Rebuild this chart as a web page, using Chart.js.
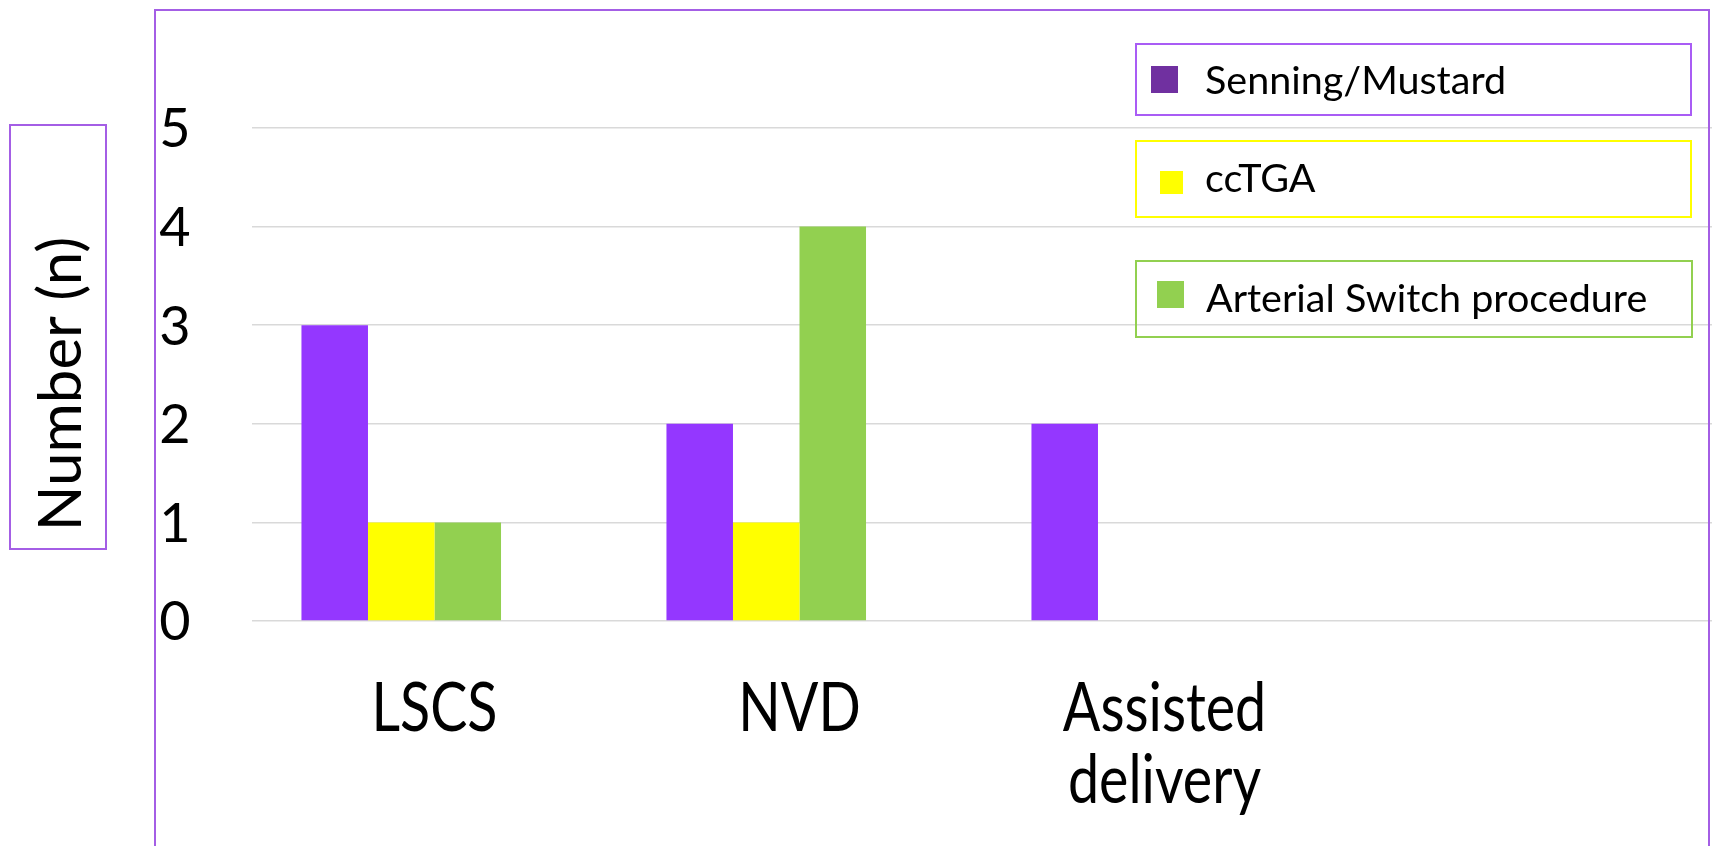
<!DOCTYPE html>
<html>
<head>
<meta charset="utf-8">
<title>Delivery mode by procedure</title>
<script src="https://cdn.jsdelivr.net/npm/chart.js@4.4.1/dist/chart.umd.min.js"></script>
<style>
  html, body { margin: 0; padding: 0; background: #fff; }
  body { width: 1712px; height: 846px; overflow: hidden; }
  #chart { display: block; }
</style>
</head>
<body>
<canvas id="chart" width="1712" height="846"></canvas>
<script>
// ─── Data ───
const categories = ['LSCS', 'NVD', ['Assisted', 'delivery'], ''];
const seriesNames = ['Senning/Mustard', 'ccTGA', 'Arterial Switch procedure'];
const senningMustard = [3, 2, 2, null];
const ccTGA = [1, 1, null, null];
const arterialSwitch = [1, 4, null, null];
const emptySeries = [null, null, null, null];   // unnamed 4th series (keeps its slot)
const yTickValues = [0, 1, 2, 3, 4, 5];
const yTitle = 'Number (n)';

// ─── Styles ───
const FONT = 'Lato, "Open Sans", sans-serif';
const CAP = 0.7165;                 // Lato cap height / em
const barColors = ['#9437ff', '#ffff00', '#92d050'];
const swatchColors = ['#7030a0', '#ffff00', '#92d050'];
const legendBorders = ['#a95cf5', '#ffff00', '#92d050'];
const frameColor = '#a45ee5';

// legend boxes: [left, top, right, bottom], swatch [x, y, w, h], text x / baseline
const legendLayout = [
    { box: [1136, 44, 1691, 115], sw: [1151, 66, 27, 27], tx: 1205, ty: 94 },
    { box: [1136, 141, 1691, 217], sw: [1160, 171, 23, 23], tx: 1205, ty: 192 },
    { box: [1136, 261, 1692, 337], sw: [1157, 281, 27, 27], tx: 1206, ty: 312 }
];

// ─── Text, frame and legend drawn over the chart ───
const overlay = {
    id: 'overlay',
    afterDraw(chart) {
        const ctx = chart.ctx;
        const xs = chart.scales.x, ys = chart.scales.y;
        ctx.save();
        ctx.fillStyle = '#000';
        ctx.textBaseline = 'alphabetic';

        // y tick labels
        const ySize = 54;
        ctx.font = ySize + 'px ' + FONT;
        ctx.textAlign = 'center';
        ys.ticks.forEach(t => {
            const py = ys.getPixelForValue(t.value);
            ctx.fillText(String(t.value), 175, py + ySize * CAP / 2);
        });

        // x category labels (narrow, tall glyphs)
        const xSize = 67, squeeze = 0.83, lineH = 72;
        ctx.font = xSize + 'px ' + FONT;
        chart.data.labels.forEach((lab, i) => {
            const px = xs.getPixelForTick(i);
            const lines = Array.isArray(lab) ? lab : [lab];
            lines.forEach((ln, j) => {
                ctx.save();
                ctx.translate(px, ys.bottom + 110 + j * lineH);
                ctx.scale(squeeze, 1);
                ctx.fillText(ln, 0, 0);
                ctx.restore();
            });
        });

        // y axis title in its box
        ctx.strokeStyle = frameColor;
        ctx.lineWidth = 2;
        ctx.strokeRect(10, 125, 96, 424);
        ctx.save();
        ctx.translate(81, 384);
        ctx.rotate(-Math.PI / 2);
        ctx.font = '60px ' + FONT;
        ctx.fillText(yTitle, 0, 0);
        ctx.restore();

        // outer frame
        ctx.strokeRect(155, 10, 1554, 900);

        // legend, one box per series
        ctx.font = '39.5px ' + FONT;
        ctx.textAlign = 'left';
        seriesNames.forEach((name, i) => {
            const L = legendLayout[i];
            ctx.strokeStyle = legendBorders[i];
            ctx.strokeRect(L.box[0], L.box[1], L.box[2] - L.box[0], L.box[3] - L.box[1]);
            ctx.fillStyle = swatchColors[i];
            ctx.fillRect(L.sw[0], L.sw[1], L.sw[2], L.sw[3]);
            ctx.fillStyle = '#000';
            ctx.fillText(name, L.tx, L.ty);
        });
        ctx.restore();
    }
};

// ─── Chart ───
const seriesValues = [senningMustard, ccTGA, arterialSwitch];
const datasets = seriesValues.map((vals, i) => ({
    label: seriesNames[i],
    data: vals,
    backgroundColor: barColors[i],
    borderWidth: 0
}));
datasets.push({ label: '', data: emptySeries, backgroundColor: 'transparent' });

new Chart(document.getElementById('chart'), {
    type: 'bar',
    data: { labels: categories, datasets: datasets },
    options: {
        responsive: false,
        devicePixelRatio: 1,
        animation: false,
        layout: { padding: { left: 252, right: 0, top: 128, bottom: 217 } },
        categoryPercentage: 0.729,
        barPercentage: 1,
        plugins: {
            legend: { display: false },
            tooltip: { enabled: false }
        },
        scales: {
            x: {
                grid: { display: false },
                border: { display: false },
                ticks: { display: false }
            },
            y: {
                min: 0,
                max: 5,
                afterBuildTicks: s => { s.ticks = yTickValues.map(v => ({ value: v })); },
                grid: { color: '#d9d9d9', lineWidth: 1.5, drawTicks: false },
                border: { display: false },
                ticks: { display: false }
            }
        }
    },
    plugins: [overlay]
});
</script>
</body>
</html>
